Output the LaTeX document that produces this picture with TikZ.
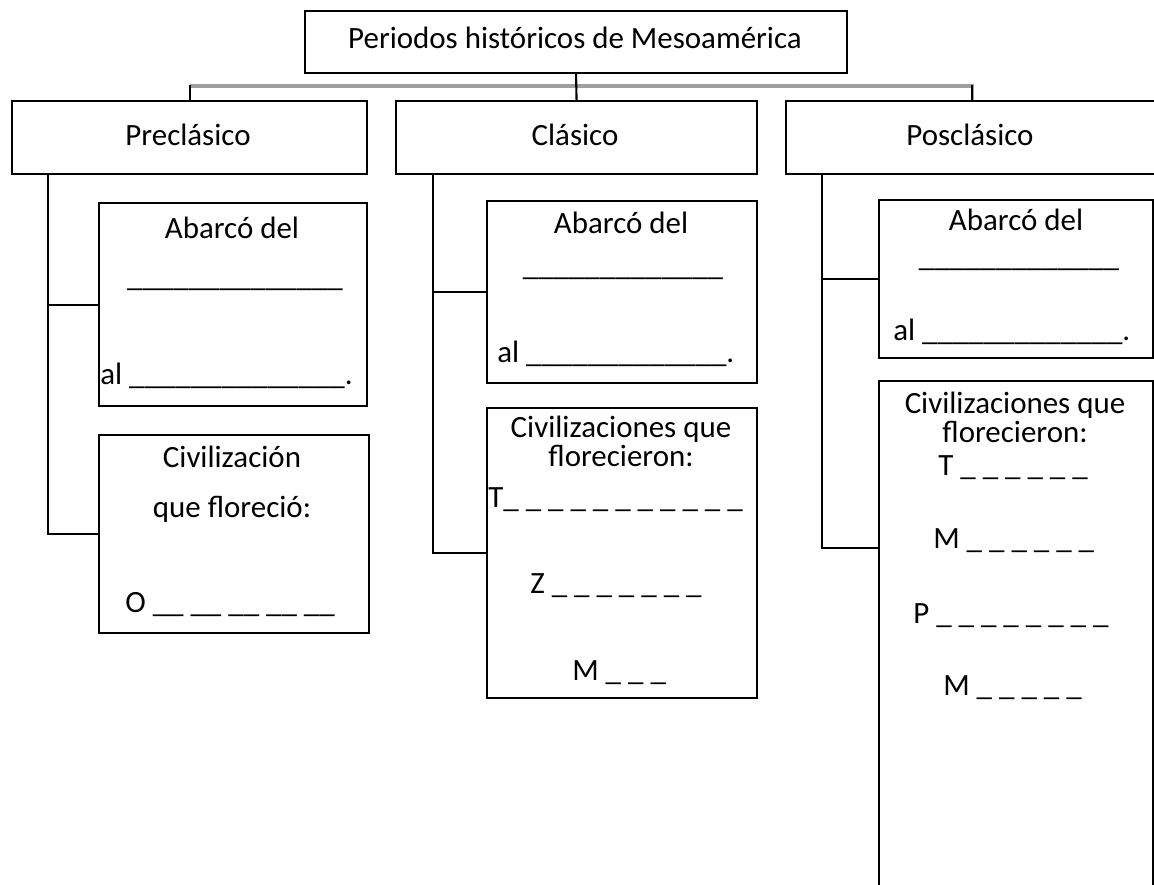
\documentclass[tikz,border=0pt]{standalone}
\usepackage{fontspec}
\setmainfont{Carlito}
\usetikzlibrary{calc}

\newcommand\unds[1]{\foreach \i in {1,...,#1}{\_}}
\newcommand\gaps[1]{\foreach \i in {1,...,#1}{\_ }}

\tikzset{
  box/.style 2 args={draw, line width=1.5pt, anchor=north west, inner sep=0pt,
    minimum width=#1*0.025cm, minimum height=#2*0.025cm},
  txt/.style={anchor=base, inner sep=0pt, font=\fontsize{22}{26}\selectfont},
  txtl/.style={txt, anchor=base west},
  twoline/.style={anchor=north, inner sep=0pt, align=center,
    font=\fontsize{22}{20.5}\selectfont},
  link/.style={line width=1.5pt},
  bar/.style={line width=2.2pt, gray!75},
}

\begin{document}
\begin{tikzpicture}[x=0.025cm, y=-0.025cm]
\useasboundingbox (0,0) rectangle (1154,884);
\clip (0,0) rectangle (1154,884);

% top and the three periods
\node[box={542}{62}] (periodos) at (304,10) {};
\node[box={355}{73}] (precl) at (11,100) {};
\node[box={361}{73}] (clas) at (395,100) {};
\node[box={372}{73}] (poscl) at (785,100) {};
\node[txt] at (575,48) {Periodos históricos de Mesoamérica};
\node[txt] at (188,145) {Preclásico};
\node[txt] at (575,145) {Clásico};
\node[txt] at (970,145) {Posclásico};

\draw[bar] (precl.north) ++(0,-14) -| (poscl.north);
\draw[link] (precl.north) -- ++(0,-15);
\draw[link] (poscl.north) -- ++(0,-15);
\draw[link] (periodos.south) -- (clas.north);

% Preclasico
\node[box={268}{203}] (preclA) at (98,202) {};
\node[box={270}{198}] (preclB) at (98,434) {};
\coordinate (preclS) at ($(precl.south west)+(37,0)$);
\draw[link] (preclS) |- (preclA.west);
\draw[link] (preclS) |- (preclB.west);
\node[txt] at (232,238) {Abarcó del};
\node[txt] at (235,286) {\unds{14}};
\node[txtl] at (100,384) {al \unds{14}.};
\node[txt] at (232,467) {Civilización};
\node[txt] at (232,517) {que floreció:};
\node[txtl] at (125,612) {O \_\_ \_\_ \_\_ \_\_ \_\_};

% Clasico
\node[box={270}{182}] (clasA) at (486,200) {};
\node[box={270}{290}] (clasB) at (486,407) {};
\coordinate (clasS) at ($(clas.south west)+(38,0)$);
\draw[link] (clasS) |- (clasA.west);
\draw[link] (clasS) |- (clasB.west);
\node[txt] at (621,233) {Abarcó del};
\node[txt] at (623,275) {\unds{13}};
\node[txtl] at (497,362) {al \unds{13}.};
\node[twoline] at (621,416) {Civilizaciones que\\florecieron:};
\node[txtl] at (488,507) {T\gaps{10}\_};
\node[txtl] at (530,593) {Z \gaps{7}};
\node[txtl] at (572,680) {M \gaps{3}};

% Posclasico
\node[box={274}{158}] (posclA) at (878,199) {};
\node[box={274}{520}] (posclB) at (878,380) {};
\coordinate (posclS) at ($(poscl.south west)+(37,0)$);
\coordinate (posclJ) at ($(posclB.north west)+(0,168)$);
\draw[link] (posclS) |- (posclA.west);
\draw[link] (posclS) |- (posclJ);
\node[txt] at (1016,230) {Abarcó del};
\node[txt] at (1019,266) {\unds{13}};
\node[txtl] at (893,340) {al \unds{13}.};
\node[twoline] at (1015,392) {Civilizaciones que\\florecieron:};
\node[txtl] at (938,475) {T \gaps{6}};
\node[txtl] at (933,548) {M \gaps{6}};
\node[txtl] at (913,623) {P \gaps{8}};
\node[txtl] at (943,695) {M \gaps{5}};
\end{tikzpicture}
\end{document}
